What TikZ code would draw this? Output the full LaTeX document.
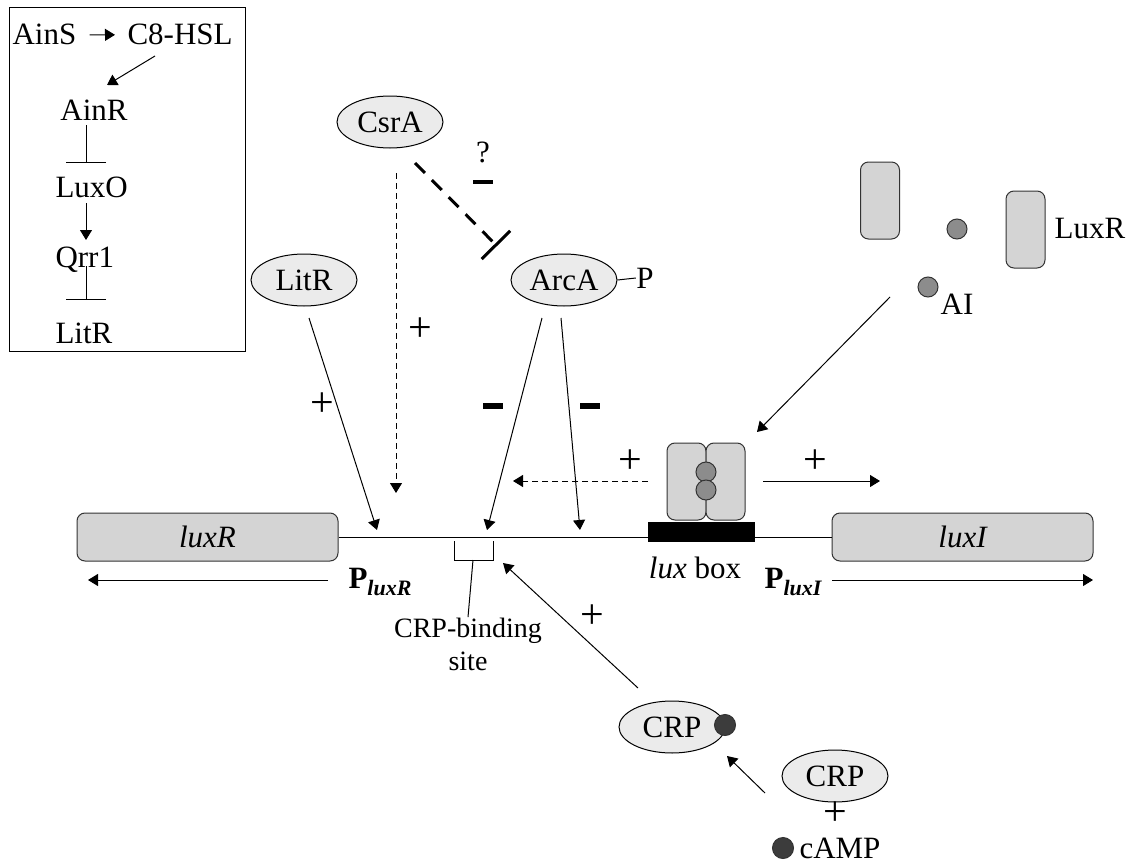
\documentclass[tikz,border=0pt]{standalone}
\usepackage{fontspec}
\setmainfont{Liberation Serif}
\usetikzlibrary{shapes.geometric,arrows.meta}
\definecolor{protfill}{HTML}{EBEBEB}
\definecolor{genefill}{HTML}{D4D4D4}
\definecolor{aifill}{HTML}{8C8C8C}
\definecolor{campfill}{HTML}{3C3C3C}
\begin{document}
\begin{tikzpicture}[x=0.5pt,y=-0.5pt,
  font=\fontsize{15.5}{18}\selectfont,
  line width=0.5pt,
  >={Triangle[length=5pt,width=6pt]},
  prot/.style={ellipse,draw,fill=protfill,minimum width=53pt,minimum height=26pt,inner sep=0pt},
  gene/.style={rectangle,rounded corners=4pt,draw=black!80,fill=genefill,minimum width=130.5pt,minimum height=24pt,inner sep=0pt,font=\fontsize{15.5}{18}\selectfont\itshape},
  mono/.style={rectangle,rounded corners=4pt,draw=black!80,fill=genefill,minimum width=19.5pt,minimum height=38.5pt,inner sep=0pt},
  aidot/.style={circle,draw=black!80,fill=aifill,minimum size=10pt,inner sep=0pt},
  campdot/.style={circle,draw=black!80,fill=campfill,minimum size=10.5pt,inner sep=0pt},
  txt/.style={inner sep=0pt},
  plus/.style={inner sep=0pt,font=\fontsize{21}{22}\selectfont},
  minus/.style={rectangle,fill=black,inner sep=0pt,minimum width=10pt,minimum height=3pt},
  act/.style={->},
  dashact/.style={->,dash pattern=on 3pt off 2pt},
  inh/.style={-{Bar[width=20pt]}},
]
\useasboundingbox (0,0) rectangle (1131,862);

% ---------- inset ----------
\node[draw,rectangle,minimum width=118pt,minimum height=172pt,inner sep=0pt] (inset) at (127,179) {};
\node[txt,anchor=base west] (ains) at (12,45) {AinS};
\node[txt,anchor=base west] (c8) at (127,45) {C8-HSL};
\node[txt,anchor=base west] (ainr) at (60,120) {AinR};
\node[txt,anchor=base west] (luxo) at (55,197) {LuxO};
\node[txt,anchor=base west] (qrr) at (55,267) {Qrr1};
\node[txt,anchor=base west] (litri) at (55,343) {LitR};
\draw[->] ([xshift=6.5pt]ains.east) -- ([xshift=-6pt]c8.west);
\coordinate (d1) at (155,56);
\coordinate (d2) at (107,85);
\draw[->] (d1) -- (d2);
\coordinate (t1a) at (86,125);
\coordinate (t1b) at (86,163);
\draw[-{Bar[width=20pt]}] (t1a) -- (t1b);
\coordinate (a2a) at (86,203);
\coordinate (a2b) at (86,240);
\draw[->] (a2a) -- (a2b);
\coordinate (t2a) at (86,266);
\coordinate (t2b) at (86,300);
\draw[-{Bar[width=20pt]}] (t2a) -- (t2b);

% ---------- proteins ----------
\node[prot] (csra) at (390,122) {CsrA};
\node[prot] (litr) at (304,280) {LitR};
\node[prot] (arca) at (564,280) {ArcA};
\node[txt] (p) at (645,278) {P};
\draw (arca.east) -- (p.west);

% ---------- DNA ----------
\node[gene] (luxr) at (207.5,537) {luxR};
\node[gene] (luxi) at (962.5,537) {luxI};
\draw (luxr.east) -- (luxi.west);
\node[rectangle,fill=black,minimum width=53.5pt,minimum height=10pt,inner sep=0pt] (luxbox) at (701.5,532) {};
\node[txt] (luxboxlbl) at (695,568) {\textit{lux} box};
\node[txt] (pluxr) at (380,582) {\textbf{P}\raisebox{-0.45ex}{\fontsize{11}{12}\selectfont\bfseries\itshape luxR}};
\node[txt] (pluxi) at (793,582) {\textbf{P}\raisebox{-0.45ex}{\fontsize{11}{12}\selectfont\bfseries\itshape luxI}};
\coordinate (rl1) at (328,580);
\coordinate (rl2) at (88,580);
\draw[->] (rl1) -- (rl2);
\coordinate (il1) at (832,580);
\coordinate (il2) at (1093,580);
\draw[->] (il1) -- (il2);

% CRP binding site
\coordinate (b1) at (454,541);
\coordinate (b2) at (493,541);
\coordinate (bs) at (473,560);
\draw (b1) -- (454,560) -- (493,560) -- (b2);
\node[txt,align=center,font=\fontsize{14}{16.5}\selectfont] (crpsite) at (468,644) {CRP-binding\\site};
\draw (bs) -- (crpsite.north);

% ---------- LuxR/AI complex ----------
\node[mono] (cl) at (686.5,481.5) {};
\node[mono] (cr) at (725.5,481.5) {};
\node[aidot] (c1) at (706,472) {};
\node[aidot] (c2) at (706,490) {};

% ---------- free LuxR and AI ----------
\node[mono] (m1) at (880,200.5) {};
\node[mono] (m2) at (1025.5,229.5) {};
\node[aidot] (ai1) at (957,229) {};
\node[aidot] (ai2) at (928,287) {};
\node[txt] (luxrlbl) at (1090,228) {LuxR};
\node[txt] (ailbl) at (957,304) {AI};

% ---------- CRP ----------
\node[prot] (crp1) at (672,727) {CRP};
\node[campdot] (crpdot) at (725,725) {};
\node[prot] (crp2) at (835,776) {CRP};
\node[campdot] (camp) at (783,848) {};
\node[txt] (camplbl) at (840,848) {cAMP};

% ---------- connectors ----------
\coordinate (e1) at (309,318);
\coordinate (e1t) at (377,530);
\draw[act] (e1) -- (e1t);
\coordinate (e2) at (396,173);
\coordinate (e2t) at (396,493);
\draw[dashact] (e2) -- (e2t);
\coordinate (e3) at (415,163);
\coordinate (e3t) at (497,246);
\draw[inh,line width=1.5pt,dash pattern=on 7pt off 5pt] (e3) -- (e3t);
\coordinate (e4) at (542,318);
\coordinate (e4t) at (487,530);
\draw[act] (e4) -- (e4t);
\coordinate (e5) at (561,318);
\coordinate (e5t) at (580,530);
\draw[act] (e5) -- (e5t);
\coordinate (e6) at (648,481);
\coordinate (e6t) at (513,481);
\draw[dashact] (e6) -- (e6t);
\coordinate (e7) at (763,481);
\coordinate (e7t) at (880,481);
\draw[act] (e7) -- (e7t);
\coordinate (e8) at (890,297);
\coordinate (e8t) at (757,432);
\draw[act] (e8) -- (e8t);
\coordinate (e9) at (638,688);
\coordinate (e9t) at (503,563);
\draw[act] (e9) -- (e9t);
\coordinate (e10) at (765,793);
\coordinate (e10t) at (727,756);
\draw[act] (e10) -- (e10t);

% signs
\node[plus] (s1) at (322,405) {+};
\node[plus] (s2) at (420,330) {+};
\node[plus] (s3) at (630,462) {+};
\node[plus] (s4) at (815,462) {+};
\node[plus] (s5) at (592,617) {+};
\node[plus] (s6) at (835,814) {+};
\node[minus] (n1) at (493,406) {};
\node[minus] (n2) at (590,406) {};
\node[txt] (q) at (483,152) {?};
\node[minus,minimum height=2pt] (n3) at (483,182) {};
\end{tikzpicture}
\end{document}
